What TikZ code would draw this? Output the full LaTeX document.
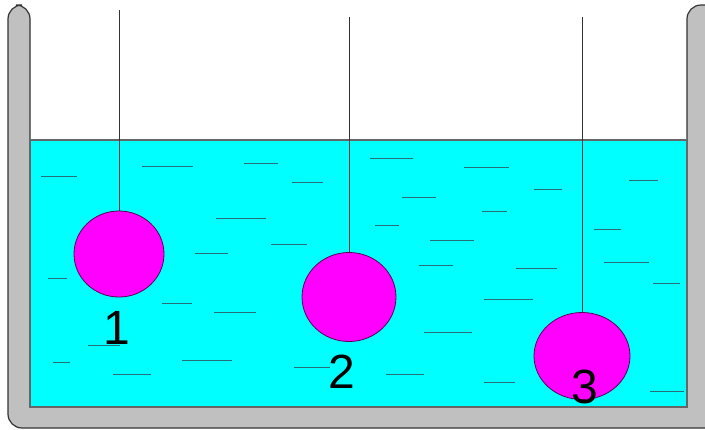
\documentclass[tikz,border=0pt]{standalone}
\usepackage{fontspec}
\setmainfont{Liberation Sans}
\usetikzlibrary{shapes.geometric}
\definecolor{water}{RGB}{0,255,255}
\definecolor{ballfill}{RGB}{255,0,255}
\definecolor{wallgray}{RGB}{192,192,192}
\definecolor{ripple}{RGB}{40,110,120}
\begin{document}
\begin{tikzpicture}[x=0.5pt, y=-0.5pt,
    ball/.style={ellipse, draw=violet!70!black, fill=ballfill, inner sep=0pt},
    numlabel/.style={font=\fontsize{24}{24}\selectfont},
    string/.style={draw=black!80, line width=0.5pt}]
        \useasboundingbox (0,0) rectangle (705,429);
        \begin{scope}
            \clip (0,0) rectangle (705,429);
            \draw[fill=wallgray, draw=black!80, line width=0.6pt, rounded corners=7]
                (8,200) -- (8,428) -- (720,428) -- (720,5) -- (687,5) -- (687,407) -- (30,407) -- (30,5) -- (8,5) -- cycle;
        \end{scope}
        \draw[fill=water, draw=black!60, line width=0.6pt] (30,140) rectangle (687,407);
        % ripples
        \foreach \a/\b/\y in {41/77/176, 142/193/166, 244/278/163, 292/323/182, 216/266/218,
            271/307/244, 195/228/253, 48/67/278, 162/192/303, 214/256/312, 88/120/345,
            53/70/362, 182/232/360, 113/151/374, 294/330/367, 370/413/158, 464/509/167,
            402/436/197, 534/562/189, 629/658/180, 482/507/211, 375/399/225, 430/474/240,
            594/621/229, 419/453/265, 516/557/268, 604/649/262, 653/680/283, 484/533/299,
            424/472/332, 386/424/374, 484/515/382, 650/684/391}
            \draw[ripple, line width=0.5pt] (\a,\y) -- (\b,\y);
        % balls on strings
        \node[ball, minimum width=45pt, minimum height=43pt] (ball1) at (119,254) {};
        \node[ball, minimum width=47pt, minimum height=44.5pt] (ball2) at (349,297) {};
        \node[ball, minimum width=48pt, minimum height=43.5pt] (ball3) at (582,356) {};
        \coordinate (top1) at (119,10);
        \coordinate (top2) at (349,17);
        \coordinate (top3) at (582,17);
        \foreach \i in {1,2,3}
            \draw[string] (top\i) -- (ball\i.north);
        \node[numlabel] (lab1) at (117,328) {1};
        \node[numlabel] (lab2) at (342,372) {2};
        \node[numlabel] (lab3) at (585,387) {3};
    \end{tikzpicture}
\end{document}
